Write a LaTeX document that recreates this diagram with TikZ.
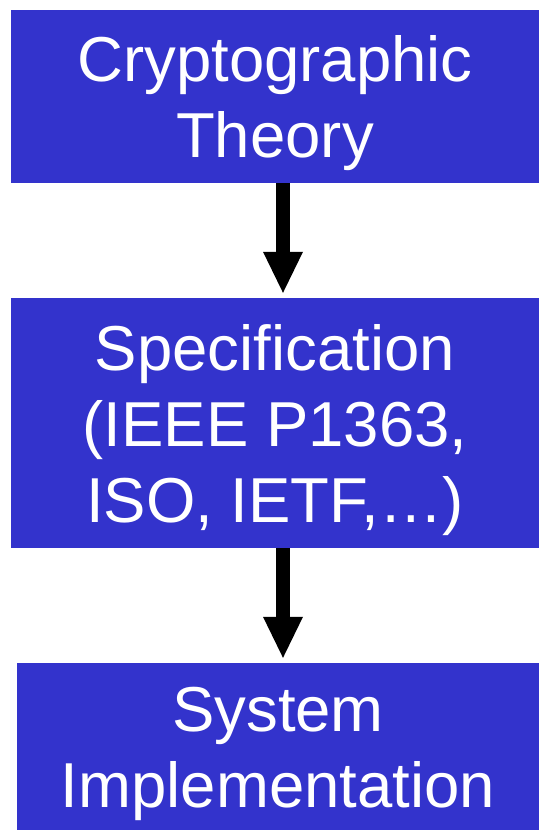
\documentclass[tikz,border=0pt]{standalone}
\usepackage{fontspec}
\setmainfont{Liberation Sans}
\usetikzlibrary{arrows.meta}
\definecolor{boxblue}{RGB}{51,51,204}
% tall strut on the first line pushes the text block slightly down in its box
\newcommand{\firststrut}{\rule{0pt}{60pt}}
\tikzset{
  stage/.style={fill=boxblue, text=white, align=center, inner sep=0pt,
    font=\fontsize{63.5}{76}\selectfont},
  flow/.style={line width=14pt, shorten >=5pt,
    -{Triangle[width=40pt,length=41pt,line width=0pt]}}
}
\begin{document}
\begin{tikzpicture}[x=1pt,y=-1pt]
  \useasboundingbox (0,0) rectangle (539,830);
  \node[stage, minimum width=528pt, minimum height=173pt] (theory) at (275,96.5)
    {\firststrut Cryptographic\\Theory};
  \node[stage, minimum width=528pt, minimum height=250pt] (spec) at (275,423)
    {\firststrut Specification\\(IEEE P1363,\\ISO, IETF,\ldots)};
  \node[stage, minimum width=522pt, minimum height=167pt] (impl) at (278,746.5)
    {\firststrut System\\Implementation};
  \coordinate (axis) at (283,0);
  \draw[flow] (theory.south -| axis) -- (spec.north -| axis);
  \draw[flow] (spec.south -| axis) -- (impl.north -| axis);
\end{tikzpicture}
\end{document}
